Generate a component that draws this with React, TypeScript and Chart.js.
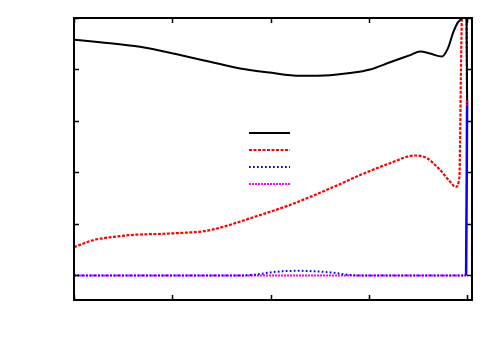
import React, { useEffect, useRef } from "react";
import { Chart, registerables } from "chart.js";

Chart.register(...registerables);

const xTicks = [0, 1, 2, 3, 4];
const yTicks = [0, 1, 2, 3, 4, 5];

const blackX = [0, 0.265, 0.672, 1.079, 1.384, 1.69, 1.995, 2.3, 2.606, 2.809, 3.013, 3.216, 3.42, 3.522, 3.623, 3.742, 3.807, 3.857, 3.908, 3.949, 3.99, 4.0];
const blackY = [4.58, 4.53, 4.44, 4.28, 4.15, 4.02, 3.94, 3.88, 3.89, 3.93, 4.0, 4.14, 4.28, 4.35, 4.31, 4.25, 4.42, 4.71, 4.92, 5.06, 6.0, 3.4];

const redX = [0, 0.204, 0.407, 0.611, 0.916, 1.12, 1.323, 1.527, 1.791, 2.198, 2.606, 2.911, 3.216, 3.47, 3.589, 3.725, 3.827, 3.885, 3.922, 3.929, 3.939, 3.95, 3.99, 4.0];
const redY = [0.55, 0.69, 0.75, 0.79, 0.81, 0.83, 0.86, 0.95, 1.11, 1.37, 1.69, 1.95, 2.18, 2.33, 2.28, 2.05, 1.82, 1.72, 1.92, 2.63, 4.18, 5.2, 6.0, 3.3];

const blueX = [0, 1.69, 1.85, 2.0, 2.15, 2.3, 2.45, 2.61, 2.81, 2.91, 3.99, 4.0];
const blueY = [0, 0, 0.02, 0.06, 0.085, 0.09, 0.08, 0.06, 0.01, 0, 0, 3.4];

const magentaX = [0, 1.0, 2.0, 3.0, 4.0];
const magentaY = [0, 0, 0, 0, 0];

const seriesLabels = ["", "", "", ""];

const toPts = (xs: number[], ys: number[]) => xs.map((x, i) => ({ x, y: ys[i] }));

const styles = [
  { color: "#000000", dash: [] as number[], width: 2 },
  { color: "#ff0000", dash: [3, 1.5], width: 2.2 },
  { color: "#0000ff", dash: [1.7, 2.3], width: 2 },
  { color: "#ff00ff", dash: [2, 1], width: 2 },
];

const framePlugin = {
  id: "frame",
  afterDatasetsDraw(chart: any) {
    const { ctx, chartArea } = chart;
    const xs = chart.scales.x;
    const ys = chart.scales.y;
    const { left, right, top, bottom } = chartArea;
    ctx.save();
    ctx.strokeStyle = "#000";
    ctx.lineWidth = 2;
    ctx.setLineDash([]);
    ctx.strokeRect(left, top, right - left, bottom - top);
    ctx.lineWidth = 1.5;
    const tl = 5;
    xTicks.forEach((v) => {
      const px = Math.round(xs.getPixelForValue(v)) + 0.5;
      ctx.beginPath();
      ctx.moveTo(px, bottom);
      ctx.lineTo(px, bottom - tl);
      ctx.moveTo(px, top);
      ctx.lineTo(px, top + tl);
      ctx.stroke();
    });
    yTicks.forEach((v) => {
      const py = Math.round(ys.getPixelForValue(v)) + 0.5;
      ctx.beginPath();
      ctx.moveTo(left, py);
      ctx.lineTo(left + tl, py);
      ctx.moveTo(right, py);
      ctx.lineTo(right - tl, py);
      ctx.stroke();
    });
    const lx0 = 249;
    const lx1 = 290;
    styles.forEach((s, i) => {
      const ly = 133 + i * 17;
      ctx.strokeStyle = s.color;
      ctx.lineWidth = s.width;
      ctx.setLineDash(s.dash);
      ctx.beginPath();
      ctx.moveTo(lx0, ly);
      ctx.lineTo(lx1, ly);
      ctx.stroke();
    });
    ctx.restore();
  },
};

export default function App() {
  const ref = useRef<HTMLCanvasElement>(null);
  useEffect(() => {
    if (!ref.current) return;
    const sets = [
      toPts(blackX, blackY),
      toPts(redX, redY),
      toPts(blueX, blueY),
      toPts(magentaX, magentaY),
    ];
    const chart = new Chart(ref.current, {
      type: "line",
      data: {
        datasets: sets.map((d, i) => ({
          label: seriesLabels[i],
          data: d,
          borderColor: styles[i].color,
          borderWidth: styles[i].width,
          borderDash: styles[i].dash,
          pointRadius: 0,
          fill: false,
          cubicInterpolationMode: "monotone" as const,
          segment:
            i === 2
              ? {
                  borderDash: (c: any) => (c.p1DataIndex === d.length - 1 ? [] : undefined),
                  borderWidth: (c: any) => (c.p1DataIndex === d.length - 1 ? 2.5 : undefined),
                }
              : undefined,
        })),
      },
      options: {
        animation: false,
        responsive: false,
        layout: { padding: { left: 74, right: 28, top: 18, bottom: 50 } },
        plugins: { legend: { display: false }, tooltip: { enabled: false } },
        scales: {
          x: { type: "linear", min: 0, max: 4.05, display: false },
          y: { type: "linear", min: -0.476, max: 5, display: false },
        },
      },
      plugins: [framePlugin],
    });
    return () => chart.destroy();
  }, []);
  return (
    <div style={{ position: "absolute", left: 0, top: 0, width: 500, height: 350, background: "#fff" }}>
      <canvas ref={ref} width={500} height={350} />
    </div>
  );
}
